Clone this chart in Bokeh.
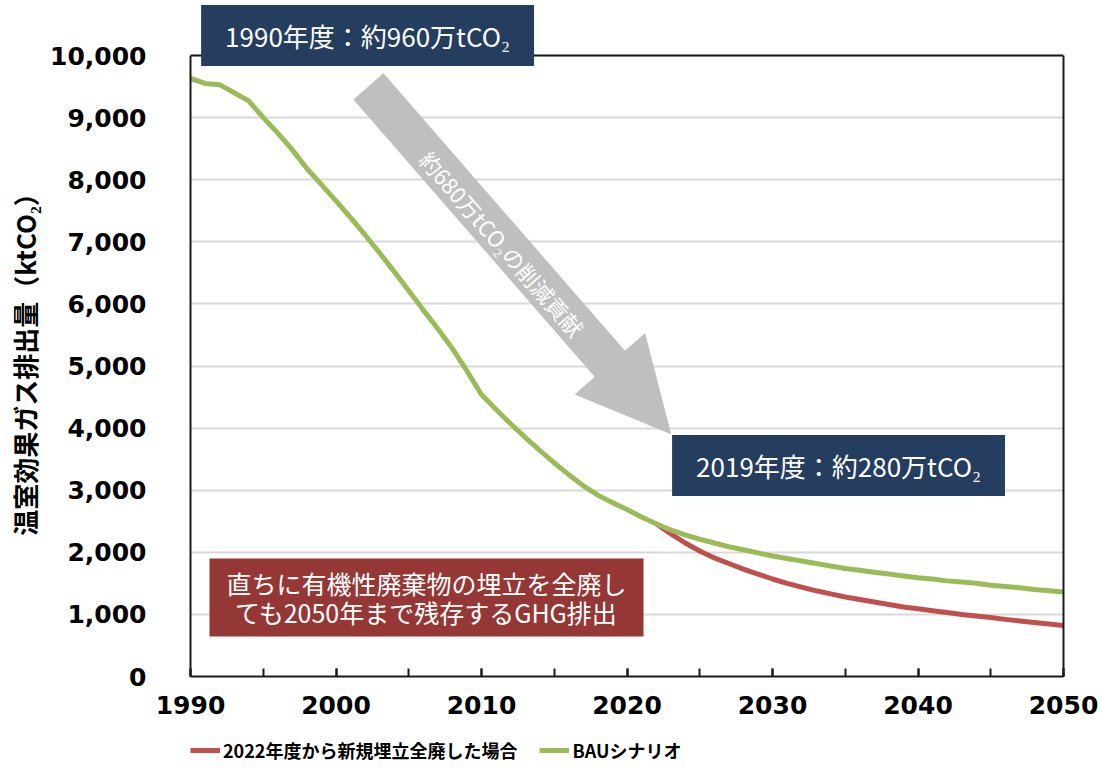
from bokeh.plotting import figure
from bokeh.layouts import column
from bokeh.models import (Range1d, NumeralTickFormatter, SingleIntervalTicker, FixedTicker,
                          LinearAxis, Span, Label, Legend, LegendItem, Arrow, NormalHead)
from bokeh.embed import file_html
from bokeh.resources import INLINE

# --- data (ktCO2) ---
years_bau = list(range(1990, 2051))
bau = [9630, 9550, 9530, 9400, 9270, 9000, 8750, 8480, 8180, 7920,
       7660, 7390, 7110, 6820, 6520, 6210, 5900, 5600, 5280, 4920,
       4540, 4300, 4070, 3850, 3640, 3440, 3250, 3070, 2920, 2800,
       2690, 2570, 2460, 2360, 2280, 2210, 2150, 2090, 2040, 1990,
       1940, 1900, 1860, 1820, 1780, 1740, 1710, 1680, 1650, 1620,
       1590, 1570, 1540, 1520, 1500, 1470, 1450, 1430, 1400, 1380,
       1360]

years_ban = list(range(2022, 2051))
ban = [2460, 2300, 2150, 2020, 1910, 1820, 1730, 1650, 1570, 1500,
       1440, 1380, 1330, 1280, 1240, 1200, 1160, 1120, 1090, 1060,
       1030, 1000, 975, 950, 920, 895, 870, 845, 820]

label_bau = "BAUシナリオ"
label_ban = "2022年度から新規埋立全廃した場合"
y_title = "温室効果ガス排出量（ktCO₂）"

X0, X1 = 1990, 2050
Y0, Y1 = 0, 10000

GREEN = "#9BBB59"
RED = "#C0504D"
NAVY = "#253D5F"
BRICK = "#953735"
GREY = "#BFBFBF"
INK = "#1a1a1a"
JP = "Noto Sans CJK JP"
NUM = "DejaVu Sans"

W = 1102
CHART_H = 730     # chart panel; legend strip sits underneath
LEGEND_H = 41
# the frame reaches the top of the canvas so the note above 10,000 is not clipped;
# the visible plot box is drawn with bounded axes and a span at Y1
TOP_PAD = 55      # pixels between canvas top and the Y1 line
FRAME_H = 676     # frame height in pixels
y_end = Y1 * FRAME_H / (FRAME_H - TOP_PAD)

p = figure(width=W, height=CHART_H, output_backend="svg", toolbar_location=None,
           x_range=Range1d(X0, X1), y_range=Range1d(Y0, y_end),
           min_border_left=190, min_border_right=39,
           min_border_top=0, min_border_bottom=CHART_H - FRAME_H)

p.background_fill_color = "white"
p.border_fill_color = "white"
p.outline_line_color = None

# axes
p.xaxis.ticker = SingleIntervalTicker(interval=10, num_minor_ticks=2)
p.yaxis.ticker = SingleIntervalTicker(interval=1000, num_minor_ticks=0)
p.yaxis.formatter = NumeralTickFormatter(format="0,0")
p.yaxis.bounds = (Y0, Y1)
for ax in (p.xaxis[0], p.yaxis[0]):
    ax.axis_line_color = INK
    ax.axis_line_width = 2
    ax.major_label_text_font = NUM
    ax.major_label_text_font_style = "bold"
    ax.major_label_text_font_size = "25px"
    ax.major_label_text_color = "black"
p.xaxis.major_tick_in = 8
p.xaxis.major_tick_out = 0
p.xaxis.minor_tick_in = 8
p.xaxis.minor_tick_out = 0
p.xaxis.major_tick_line_color = INK
p.xaxis.minor_tick_line_color = INK
p.xaxis.major_tick_line_width = 2
p.xaxis.minor_tick_line_width = 2
p.xaxis.major_label_standoff = 19
p.yaxis.major_tick_line_color = None
p.yaxis.minor_tick_line_color = None
p.yaxis.major_label_standoff = 38
# the axis title is centred on the whole frame; two ideographic spaces at its
# end bring the visible words down to the middle of the 0-10,000 box
p.yaxis.axis_label = y_title + "\u3000\u3000"
p.yaxis.axis_label_text_font = JP
p.yaxis.axis_label_text_font_style = "bold"
p.yaxis.axis_label_text_font_size = "26px"
p.yaxis.axis_label_text_color = "black"
p.yaxis.axis_label_standoff = 4

# right edge of the plot box
p.add_layout(LinearAxis(ticker=FixedTicker(ticks=[]), bounds=(Y0, Y1),
                        axis_line_color=INK, axis_line_width=2,
                        major_tick_line_color=None, minor_tick_line_color=None), "right")

p.xgrid.grid_line_color = None
p.ygrid.grid_line_color = "#D9D9D9"
p.ygrid.grid_line_width = 2
# top edge of the plot box
p.add_layout(Span(location=Y1, dimension="width", line_color=INK, line_width=2))

# reduction arrow and its caption
p.add_layout(Arrow(x_start=2002.23, y_start=9501, x_end=2022.99, y_end=3913,
                   line_color=GREY, line_width=40,
                   end=NormalHead(size=92, fill_color=GREY, line_color=GREY)))
p.add_layout(Label(x=2011.44, y=6973, text="約680万tCO₂の削減貢献", angle=-49,
                   angle_units="deg", text_align="center", text_baseline="middle",
                   text_font=JP, text_font_size="22px", text_color="white"))

# series
p.line(years_ban, ban, line_color=RED, line_width=5)
p.line(years_bau, bau, line_color=GREEN, line_width=5)

# boxed notes
def note(x, y, text, fill, size="26px", px=24, py=12, lh=1.15):
    return Label(x=x, y=y, text=text, text_align="center", text_baseline="middle",
                 text_font=JP, text_font_size=size, text_color="white",
                 background_fill_color=fill, background_fill_alpha=1.0,
                 padding=(px, py), text_line_height=lh)

p.add_layout(note(2002.17, 10322, "1990年度：約960万tCO₂", NAVY))
p.add_layout(note(2034.54, 3398, "2019年度：約280万tCO₂", NAVY))
p.add_layout(note(2006.22, 1272, "直ちに有機性廃棄物の埋立を全廃し\nても2050年まで残存するGHG排出",
                  BRICK, size="25px", px=17, py=6, lh=0.83))

# legend strip under the chart; the swatch renderers hold a single empty point
leg = figure(width=W, height=LEGEND_H, output_backend="svg", toolbar_location=None,
             x_axis_location=None, y_axis_location=None,
             x_range=Range1d(0, 1), y_range=Range1d(0, 1),
             min_border_left=0, min_border_right=0, min_border_top=0, min_border_bottom=0)
leg.outline_line_color = None
leg.grid.visible = False
nan = float("nan")
sw_ban = leg.line([nan], [nan], line_color=RED, line_width=5)
sw_bau = leg.line([nan], [nan], line_color=GREEN, line_width=5)
legend = Legend(items=[LegendItem(label=label_ban, renderers=[sw_ban]),
                       LegendItem(label=label_bau, renderers=[sw_bau])],
                orientation="horizontal", location=(0, 8),
                padding=0, margin=0, spacing=22, glyph_width=30, glyph_height=20,
                label_standoff=3, label_height=20,
                label_text_font=JP, label_text_font_style="bold",
                label_text_font_size="18px", label_text_color="black",
                border_line_color=None, background_fill_alpha=0)
leg.add_layout(legend, "center")

open("out.html", "w").write(file_html(column(p, leg, spacing=0), INLINE))
